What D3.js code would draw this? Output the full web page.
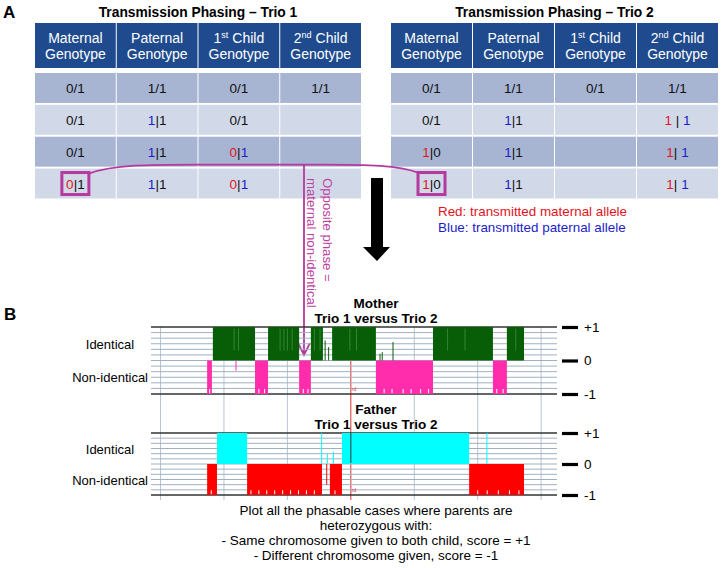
<!DOCTYPE html>
<html><head><meta charset="utf-8">
<script src="https://cdn.jsdelivr.net/npm/d3@7"></script>
<style>body{margin:0;background:#fff}svg{display:block;font-family:"Liberation Sans",Arial,sans-serif}</style>
</head><body><svg id="c" width="722" height="568"></svg>
<script>
// ---------- data ----------
const tableTitles = ["Transmission Phasing \u2013 Trio 1", "Transmission Phasing \u2013 Trio 2"];
const headerTop = ["Maternal", "Paternal", "1|st| Child", "2|nd| Child"];
const headerBottom = ["Genotype", "Genotype", "Genotype", "Genotype"];
// cells: list of [text, colourKey]
const trio1Rows = [
  [[["0/1","k"]], [["1/1","k"]], [["0/1","k"]], [["1/1","k"]]],
  [[["0/1","k"]], [["1","b"],["|1","k"]], [["0/1","k"]], []],
  [[["0/1","k"]], [["1","b"],["|1","k"]], [["0","r"],["|","k"],["1","b"]], []],
  [[["0","r"],["|1","k"]], [["1","b"],["|1","k"]], [["0","r"],["|","k"],["1","b"]], []]
];
const trio2Rows = [
  [[["0/1","k"]], [["1/1","k"]], [["0/1","k"]], [["1/1","k"]]],
  [[["0/1","k"]], [["1","b"],["|1","k"]], [], [["1","r"],[" | ","k"],["1","b"]]],
  [[["1","r"],["|0","k"]], [["1","b"],["|1","k"]], [], [["1","r"],["| ","k"],["1","b"]]],
  [[["1","r"],["|0","k"]], [["1","b"],["|1","k"]], [], [["1","r"],["| ","k"],["1","b"]]]
];
const legendLines = [["Red: transmitted maternal allele","r"],["Blue: transmitted paternal allele","b"]];
const annotLines = ["Opposite phase =", "maternal non-identical"];

// panel B (positions in Mb, scores +1 identical / -1 non-identical)
const posTicks = [0, 20, 40, 60, 80, 100, 120];
const scoreTicks = [1, 0, -1];
const scoreTickLabels = ["+1", "0", "-1"];
const centromere = 60;
const motherIdentical = [[16.5,29.8],[33.9,43.7],[47.4,51.2],[54.1,67.9],[85.9,104.8],[109.2,114.6]];
const motherNonIdentical = [[14.7,16.2],[29.8,33.9],[43.7,47.4],[67.9,85.9],[104.8,109.2]];
const motherSparse = [[23.8,-0.3],[51.9,0.6],[53.0,0.4],[69.2,0.2],[69.9,0.25],[73.3,0.55]];
const motherStreaks = [23.2, 24.6, 37.7, 38.9, 40.0, 41.5, 48.5, 50.3, 59.7, 61.8, 90.5, 96.0, 112.0];
const motherGaps = [15.5, 31.0, 32.8, 45.0, 46.5, 70.5, 73.0, 76.5, 79.0, 82.0, 84.5, 106.0, 108.0];
const fatherIdentical = [[17.8,27.3],[57.2,97.3]];
const fatherNonIdentical = [[14.7,17.8],[27.3,50.9],[53.4,57.2],[97.3,114.6]];
const fatherSparse = [[50.8,1],[52.6,0.33],[54.5,0.4],[52.4,-0.67],[102.9,1]];
const fatherStreaks = [];
const fatherGaps = [16.0, 28.5, 31.0, 33.5, 36.0, 38.5, 41.0, 43.5, 46.0, 48.5, 55.0, 100.0, 103.0, 106.5, 110.0, 113.0];
const trackNames = ["Mother", "Father"];
const rowLabels = ["Identical", "Non-identical"];
const noteLines = ["Plot all the phasable cases where parents are", "heterozygous with:",
  "- Same chromosome given to both child, score = +1", "- Different chromosome given, score = -1"];

// ---------- styles ----------
const COL = {k:"#111", r:"#e3141e", b:"#1c1cc8"};
const HEADER = "#1f4b8e", ROW_DARK = "#a7b5d3", ROW_LIGHT = "#d1d9e8";
const MAG = "#b5399e";
const svg = d3.select("#c");
svg.append("rect").attr("width",722).attr("height",568).attr("fill","#fff");

// ---------- panel A ----------
svg.append("text").attr("x",3).attr("y",18).attr("font-size",17).attr("font-weight","bold").text("A");

function drawTable(x0, x1, title, rows) {
  const xs = d3.scaleBand().domain(d3.range(4)).range([x0, x1]).paddingInner(0.012);
  const ys = d3.scaleBand().domain(d3.range(rows.length)).range([73, 198.5]).paddingInner(0.06);
  const g = svg.append("g");
  g.append("text").attr("x",(x0+x1)/2).attr("y",17).attr("text-anchor","middle")
    .attr("font-size",13.8).attr("font-weight","bold").text(title);
  d3.range(4).forEach(i => {
    g.append("rect").attr("x",xs(i)).attr("y",23).attr("width",xs.bandwidth()).attr("height",45).attr("fill",HEADER);
    const cx = xs(i)+xs.bandwidth()/2;
    const t1 = g.append("text").attr("x",cx).attr("y",43).attr("text-anchor","middle").attr("fill","#fff").attr("font-size",14);
    const parts = headerTop[i].split("|");
    t1.append("tspan").text(parts[0]);
    if (parts.length > 1) {
      t1.append("tspan").attr("font-size",9).attr("dy",-5).text(parts[1]);
      t1.append("tspan").attr("dy",5).text(parts[2]);
    }
    g.append("text").attr("x",cx).attr("y",59).attr("text-anchor","middle").attr("fill","#fff").attr("font-size",14).text(headerBottom[i]);
  });
  rows.forEach((row, r) => {
    row.forEach((cell, i) => {
      g.append("rect").attr("x",xs(i)).attr("y",ys(r)).attr("width",xs.bandwidth()).attr("height",ys.bandwidth())
        .attr("fill", r % 2 === 0 ? ROW_DARK : ROW_LIGHT);
      if (cell.length) {
        const t = g.append("text").attr("x",xs(i)+xs.bandwidth()/2).attr("y",ys(r)+ys.bandwidth()/2+5)
          .attr("text-anchor","middle").attr("font-size",13.5).attr("xml:space","preserve");
        cell.forEach(([s,c]) => t.append("tspan").attr("fill",COL[c]).text(s));
      }
    });
  });
  return {xs, ys};
}
const t1 = drawTable(35, 361, tableTitles[0], trio1Rows);
const t2 = drawTable(391, 718, tableTitles[1], trio2Rows);

[t1, t2].forEach(t => {
  const cx = t.xs(0) + t.xs.bandwidth()/2;
  const cy = t.ys(3) + t.ys.bandwidth()/2;
  svg.append("rect").attr("x",cx-13.5).attr("y",cy-11).attr("width",27).attr("height",22)
    .attr("fill","none").attr("stroke",MAG).attr("stroke-width",3);
});
const bx1 = t1.xs(0)+t1.xs.bandwidth()/2+13.5, bx2 = t2.xs(0)+t2.xs.bandwidth()/2-13.5;
const by = t1.ys(3)+t1.ys.bandwidth()/2-11;
svg.append("path").attr("fill","none").attr("stroke",MAG).attr("stroke-width",1.8)
  .attr("d",`M${bx1},${by+1} C${bx1+25},${by-8} ${bx1+60},${by-8} ${bx1+110},${by-8} L320,${by-8} C370,${by-8} ${bx2-20},${by-7} ${bx2},${by}`);
const ax = 304;
svg.append("path").attr("fill","none").attr("stroke",MAG).attr("stroke-width",1.8)
  .attr("d",`M${ax},${by-8} L${ax},355 M${ax-6},343 L${ax},355 L${ax+6},343`);
annotLines.forEach((s,i) => {
  svg.append("text").attr("transform",`translate(${i===0?323:306.5},178) rotate(90)`)
    .attr("font-size",13.2).attr("fill","#bf3fa2").text(s);
});
svg.append("path").attr("fill","#000")
  .attr("d","M371,178 L383,178 L383,247 L390,247 L377,261 L363,247 L371,247 Z");
legendLines.forEach(([s,c],i) => {
  svg.append("text").attr("x",438).attr("y",216+i*16).attr("font-size",13.4).attr("fill",COL[c]).text(s);
});

// ---------- panel B ----------
svg.append("text").attr("x",4).attr("y",320).attr("font-size",17).attr("font-weight","bold").text("B");

const x = d3.scaleLinear().domain([-3,125]).range([151,557]);
const tracks = [
  {y: d3.scaleLinear().domain([-1,1]).range([394,327]), idc:"#075e07", nic:"#ff2dab", streak:"#3f8f3f",
   ident: motherIdentical, non: motherNonIdentical, sparse: motherSparse, streaks: motherStreaks, gaps: motherGaps, titleY:308},
  {y: d3.scaleLinear().domain([-1,1]).range([495,433]), idc:"#00ffff", nic:"#ff0000", streak:"#9ff",
   ident: fatherIdentical, non: fatherNonIdentical, sparse: fatherSparse, streaks: fatherStreaks, gaps: fatherGaps, titleY:414}
];
svg.append("g").selectAll("line").data(posTicks).join("line")
  .attr("x1",d=>x(d)).attr("x2",d=>x(d)).attr("y1",327).attr("y2",500)
  .attr("stroke",d=>d===centromere?"#e03030":"#b8c5d3").attr("stroke-width",1);

tracks.forEach((tr, k) => {
  const g = svg.append("g");
  const hv = d3.range(-6,7).map(v => v/6);
  g.selectAll("line.h").data(hv).join("line")
    .attr("x1",x.range()[0]).attr("x2",x.range()[1]).attr("y1",d=>tr.y(d)).attr("y2",d=>tr.y(d))
    .attr("stroke",d=>Math.abs(d)===1?"#333":"#9fb0c2").attr("stroke-width",d=>Math.abs(d)===1?1.5:1);
  g.selectAll("rect.i").data(tr.ident).join("rect")
    .attr("x",d=>x(d[0])).attr("width",d=>x(d[1])-x(d[0]))
    .attr("y",tr.y(1)).attr("height",tr.y(0)-tr.y(1)).attr("fill",tr.idc);
  g.selectAll("rect.n").data(tr.non).join("rect")
    .attr("x",d=>x(d[0])).attr("width",d=>x(d[1])-x(d[0]))
    .attr("y",tr.y(0)).attr("height",tr.y(-1)-tr.y(0)).attr("fill",tr.nic);
  // light streaks inside identical blocks
  g.selectAll("line.st").data(tr.streaks).join("line")
    .attr("x1",d=>x(d)).attr("x2",d=>x(d)).attr("y1",tr.y(0.95)).attr("y2",tr.y(0.3))
    .attr("stroke",tr.streak).attr("stroke-width",0.8);
  // ragged gaps at the bottom of non-identical blocks
  g.selectAll("line.gp").data(tr.gaps).join("line")
    .attr("x1",d=>x(d)).attr("x2",d=>x(d)).attr("y1",tr.y(-1)-0.8).attr("y2",tr.y(-0.85))
    .attr("stroke","#fff").attr("stroke-width",1);
  g.selectAll("line.s").data(tr.sparse).join("line")
    .attr("x1",d=>x(d[0])).attr("x2",d=>x(d[0])).attr("y1",tr.y(0)).attr("y2",d=>tr.y(d[1]))
    .attr("stroke",d=>d[1]>0?tr.idc:tr.nic).attr("stroke-width",1);
  const axis = d3.axisRight(tr.y).tickValues(scoreTicks).tickSize(16).tickPadding(6)
    .tickFormat((d,i)=>scoreTickLabels[i]);
  const ag = g.append("g").attr("transform",`translate(562,0)`).call(axis);
  ag.select(".domain").remove();
  ag.selectAll("line").attr("stroke","#000").attr("stroke-width",3.2);
  ag.selectAll("text").attr("font-size",13.5).attr("fill","#000").attr("font-family","Liberation Sans, Arial, sans-serif");
  g.append("text").attr("x",110).attr("y",(tr.y(1)+tr.y(0))/2+5).attr("text-anchor","middle").attr("font-size",13).text(rowLabels[0]);
  g.append("text").attr("x",148).attr("y",(tr.y(0)+tr.y(-1))/2+5).attr("text-anchor","end").attr("font-size",13).text(rowLabels[1]);
  g.append("text").attr("x",376).attr("y",tr.titleY).attr("text-anchor","middle").attr("font-size",13.5).attr("font-weight","bold").text(trackNames[k]);
  g.append("text").attr("x",376).attr("y",tr.titleY+15).attr("text-anchor","middle").attr("font-size",13.5).attr("font-weight","bold").text("Trio 1 versus Trio 2");
  // small centromere tag near the bottom
  g.append("text").attr("x",x(centromere)+1).attr("y",tr.y(-1)-3).attr("font-size",5).attr("fill","#e03030").text("rd");
});
svg.append("line").attr("x1",x(centromere)).attr("x2",x(centromere)).attr("y1",433).attr("y2",463).attr("stroke","#333").attr("stroke-width",1);

noteLines.forEach((s,i) => {
  svg.append("text").attr("x",376).attr("y",515+i*15).attr("text-anchor","middle").attr("font-size",13.5).text(s);
});
</script></body></html>
